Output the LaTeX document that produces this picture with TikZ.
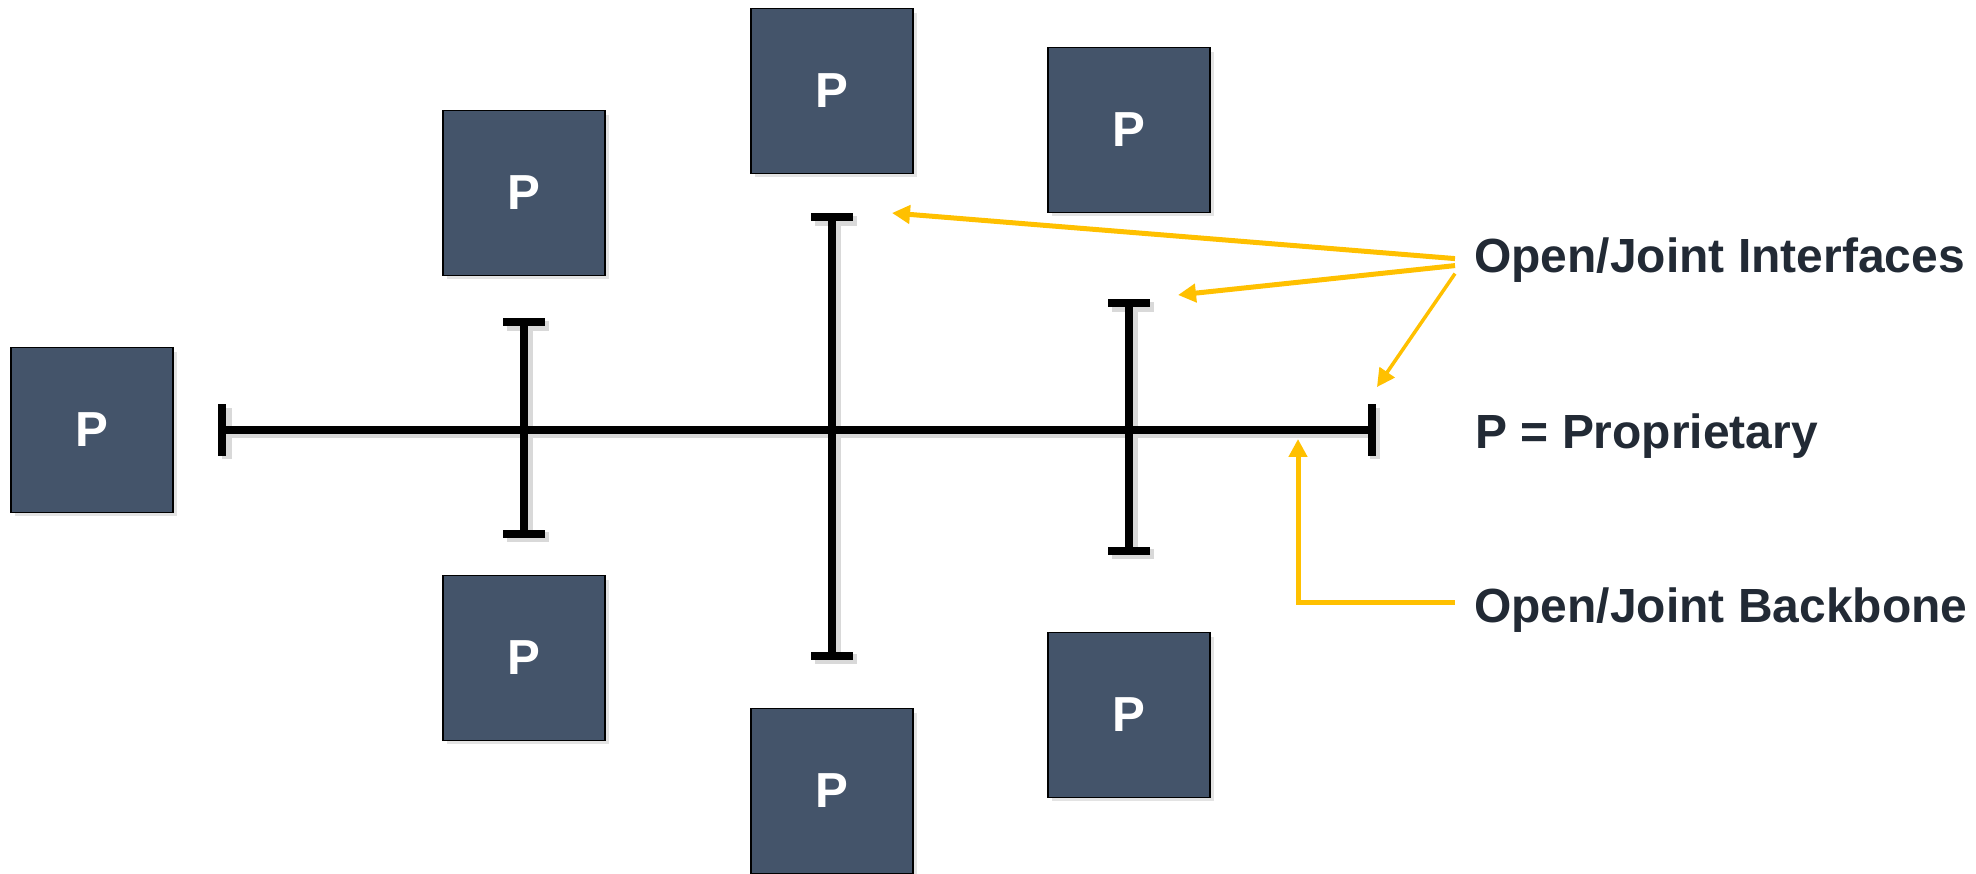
\documentclass[tikz,border=0pt]{standalone}
\usepackage{fontspec}
\setmainfont{Liberation Sans}
\usetikzlibrary{arrows.meta,shadows}

\definecolor{pblue}{HTML}{44546A}
\definecolor{lblgray}{HTML}{222A35}
\definecolor{ifyellow}{HTML}{FFC000}

\tikzset{
  pbox/.style={draw=black, line width=1.1pt, fill=pblue, text=white,
    minimum width=3.24cm, minimum height=3.3cm, inner sep=0pt,
    font=\bfseries\fontsize{28}{32}\selectfont,
    drop shadow={shadow xshift=0.08cm, shadow yshift=-0.08cm, opacity=0.22}},
  bus/.style={line width=0.16cm},
  busshadow/.style={draw=black!15, line width=0.2cm,
    transform canvas={shift={(0.07cm,-0.07cm)}}},
  endbar/.style={{Bar[width=1.04cm]}-{Bar[width=1.04cm]}},
  sidebar/.style={{Bar[width=0.84cm]}-{Bar[width=0.84cm]}},
  lbl/.style={anchor=base west, inner sep=0pt, text=lblgray,
    font=\bfseries\fontsize{27.3}{31}\selectfont},
  callout/.style={draw=ifyellow, line width=0.1cm,
    -{Triangle[length=0.36cm,width=0.36cm]}}
}

\begin{document}
\begin{tikzpicture}[x=0.02cm, y=-0.02cm]
 \useasboundingbox (0,0) rectangle (1976,874);

 %proprietary boxes
 \foreach \name/\x/\y in {pL/92/430, pUL/524/193, pLL/524/658, pT/832/91,
                          pB/832/791, pUR/1129/130, pLR/1129/715} {
         \node[pbox] (\name) at (\x,\y) {P};
 }

 %backbone and interface ends
 \coordinate (bbL) at (218,430);
 \coordinate (bbR) at (1376,430);
 \foreach \name/\x/\top/\bot in {vL/524/318/538, vC/832/213/660, vR/1129/299/555} {
         \coordinate (\name t) at (\x,\top);
         \coordinate (\name b) at (\x,\bot);
 }

 %shadows first
 \draw[busshadow, endbar] (bbL) -- (bbR);
 \foreach \name in {vL, vC, vR} {
         \draw[busshadow, sidebar] (\name t) -- (\name b);
 }

 %lines
 \draw[bus, endbar] (bbL) -- (bbR);
 \foreach \name in {vL, vC, vR} {
         \draw[bus, sidebar] (\name t) -- (\name b);
 }

 %labels
 \node[lbl] (lblIf) at (1474,273) {Open/Joint Interfaces};
 \node[lbl] (lblP) at (1475,448) {P = Proprietary};
 \node[lbl] (lblBb) at (1474,622) {Open/Joint Backbone};

 %arrows
 \coordinate (tipC) at (892,213);
 \coordinate (tipR) at (1178,295);
 \coordinate (tipE) at (1377,387);
 \coordinate (tipB) at (1298,439);

 \draw[callout] ([shift={(-19,-2)}]lblIf.west) -- (tipC);
 \draw[callout] ([shift={(-19,5)}]lblIf.west) -- (tipR);
 \draw[callout, line width=0.07cm] ([shift={(-19,13)}]lblIf.west) -- (tipE);
 \draw[callout] ([shift={(-19,-7)}]lblBb.west) -| (tipB);

\end{tikzpicture}
\end{document}
